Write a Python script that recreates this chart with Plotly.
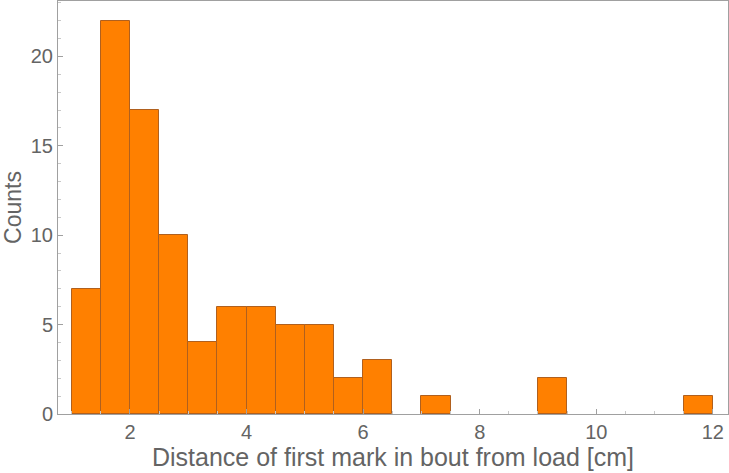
import plotly.graph_objects as go

# bin left edges (cm), bin width 0.5
bin_left = [1.0, 1.5, 2.0, 2.5, 3.0, 3.5, 4.0, 4.5, 5.0, 5.5, 6.0, 7.0, 9.0, 11.5]
counts = [7, 22, 17, 10, 4, 6, 6, 5, 5, 2, 3, 1, 2, 1]
bin_width = 0.5

centers = [b + bin_width / 2 for b in bin_left]

fig = go.Figure()
fig.add_trace(go.Bar(x=centers, y=counts, width=bin_width,
                     marker=dict(color="#FF8000", line=dict(color="#B0601E", width=1))))

txt = "#646464"
axis_common = dict(showline=True, linecolor="#A0A0A0", linewidth=1, mirror=True,
                   ticks="inside", ticklen=5, tickcolor="#A0A0A0",
                   showgrid=False, zeroline=False, automargin=False,
                   tickfont=dict(family="Liberation Sans", size=20, color=txt),
                   minor=dict(ticks="inside", ticklen=3, tickcolor="#C8C8C8"))

fig.update_layout(
    width=729, height=473,
    margin=dict(l=58, r=1, t=1, b=59),
    plot_bgcolor="white", paper_bgcolor="white",
    showlegend=False, bargap=0,
    xaxis=dict(range=[0.765, 12.26], tickvals=[2, 4, 6, 8, 10, 12],
               title=dict(text="Distance of first mark in bout from load [cm]",
                          font=dict(family="Liberation Sans", size=25, color=txt),
                          standoff=5),
               **axis_common),
    yaxis=dict(range=[0, 23.1], tickvals=[0, 5, 10, 15, 20],
               title=dict(text="Counts",
                          font=dict(family="Liberation Sans", size=23, color=txt),
                          standoff=5),
               **axis_common),
)
fig.update_xaxes(minor_dtick=0.5)
fig.update_yaxes(minor_dtick=1)

# page body has a default 8px margin; remove it so the figure fills the window
fig.write_html("out.html", config={"displayModeBar": False},
               post_script="document.body.style.margin='0';document.body.style.overflow='hidden';")
